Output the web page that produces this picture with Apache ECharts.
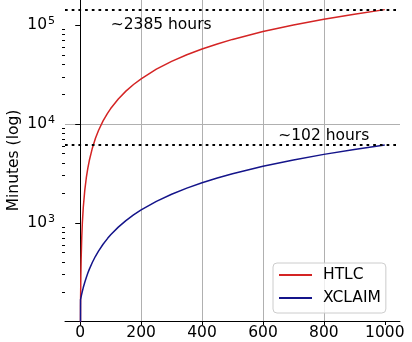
<!DOCTYPE html>
<html>
<head>
<meta charset="utf-8">
<script src="https://cdn.jsdelivr.net/npm/echarts@6/dist/echarts.min.js"></script>
<style>
  html, body { margin: 0; padding: 0; background: #fff; }
  #main { width: 412px; height: 342px; }
</style>
</head>
<body>
<div id="main"></div>
<script>
// x positions
var xs = [0, 1, 2, 3, 5, 7, 10, 15, 20, 25, 30, 40, 50, 60, 75, 90, 100, 125, 150, 175,
  200, 250, 300, 350, 400, 450, 500, 600, 700, 800, 900, 1000];
// minutes (log axis); first point drops to the axis floor
var htlcMinutes = [1, 143, 286, 429, 716, 1002, 1431, 2147, 2862, 3578, 4293, 5724, 7155, 8586, 10730, 12880, 14310, 17890, 21470, 25040,
  28620, 35780, 42930, 50090, 57240, 64400, 71550, 85860, 100200, 114500, 128800, 143100];
var xclaimMinutes = [1, 168, 174, 180, 192, 204, 222, 251, 281, 311, 341, 400, 460, 519, 609, 698, 758, 907, 1056, 1205,
  1354, 1652, 1949, 2247, 2545, 2843, 3141, 3737, 4333, 4928, 5524, 6120];

var refLines = [143100, 6120];
var noteX = [100, 650];
var noteY = [100000, 7500];
var noteText = ['~2385 hours', '~102 hours'];

var xTicks = [0, 200, 400, 600, 800, 1000];
var yTicks = [1000, 10000, 100000];
var yMinorTicks = [200, 300, 400, 500, 600, 700, 800, 900,
  2000, 3000, 4000, 5000, 6000, 7000, 8000, 9000,
  20000, 30000, 40000, 50000, 60000, 70000, 80000, 90000];

var font = 'DejaVu Sans';
var fs = 15.5;

function pairs(vals) {
  return xs.map(function (x, i) { return [x, vals[i]]; });
}

var chart = echarts.init(document.getElementById('main'));

var yRange = { min: 102, max: 179000 };

chart.setOption({
  animation: false,
  textStyle: { fontFamily: font },
  grid: { left: 65, right: 12, top: 0, bottom: 21, outerBoundsMode: 'none', containLabel: false },
  legend: {
    orient: 'vertical',
    left: 273, top: 263,
    padding: [4, 5, 7, 6],
    icon: 'rect',
    itemWidth: 33, itemHeight: 2, itemGap: 7,
    backgroundColor: 'rgba(255,255,255,0.8)',
    borderColor: '#cccccc', borderWidth: 1, borderRadius: 4,
    textStyle: { fontSize: fs, color: '#000', fontFamily: font, padding: [0, 0, 0, 6], lineHeight: 16 },
    data: ['HTLC', 'XCLAIM']
  },
  xAxis: {
    type: 'value',
    min: -50, max: 1050,
    axisLine: { lineStyle: { color: '#000', width: 1 } },
    axisTick: { show: true, length: 4, customValues: xTicks, lineStyle: { color: '#000' } },
    axisLabel: {
      customValues: xTicks, color: '#000', fontSize: fs, margin: 4, fontFamily: font,
      formatter: function (v) { return String(v); }
    },
    splitLine: { show: true, showMinLine: false, showMaxLine: false, lineStyle: { color: '#b0b0b0', width: 1 } }
  },
  yAxis: [{
    type: 'log',
    logBase: 10,
    min: yRange.min, max: yRange.max,
    name: 'Minutes (log)',
    nameLocation: 'middle',
    nameGap: 43,
    nameMoveOverlap: false,
    nameTextStyle: { fontSize: fs, color: '#000', fontFamily: font },
    axisLine: { show: true, lineStyle: { color: '#000', width: 1 } },
    axisTick: { show: true, length: 5, customValues: yTicks, lineStyle: { color: '#000' } },
    axisLabel: {
      customValues: yTicks,
      margin: 10,
      color: '#000',
      formatter: function (v) {
        return '{b|10}{e|' + Math.round(Math.log10(v)) + '}';
      },
      rich: {
        b: { fontSize: fs, color: '#000', fontFamily: font },
        e: { fontSize: 11, color: '#000', fontFamily: font, padding: [0, 0, 7, 1] }
      }
    },
    splitLine: { show: true, showMinLine: false, showMaxLine: false, lineStyle: { color: '#b0b0b0', width: 1 } }
  }, {
    // minor ticks only
    type: 'log',
    logBase: 10,
    min: yRange.min, max: yRange.max,
    position: 'left',
    axisLine: { show: false },
    axisTick: { show: true, length: 3, customValues: yMinorTicks, lineStyle: { color: '#000' } },
    axisLabel: { show: false },
    splitLine: { show: false }
  }],
  series: [{
    name: 'HTLC',
    type: 'line',
    symbol: 'none',
    color: '#d42424',
    lineStyle: { color: '#d42424', width: 1.5 },
    data: pairs(htlcMinutes),
    markLine: {
      silent: true,
      symbol: ['none', 'none'],
      label: { show: false },
      lineStyle: { color: '#000', type: [2.7, 4], width: 2.2 },
      data: refLines.map(function (v) { return { yAxis: v }; })
    }
  }, {
    name: 'XCLAIM',
    type: 'line',
    symbol: 'none',
    color: '#14148a',
    lineStyle: { color: '#14148a', width: 1.5 },
    data: pairs(xclaimMinutes),
    markPoint: {
      silent: true,
      symbol: 'circle',
      symbolSize: 0,
      label: { show: true, position: 'right', distance: 0, color: '#000', fontSize: fs, fontFamily: font },
      data: noteText.map(function (t, i) {
        return { coord: [noteX[i], noteY[i]], label: { formatter: t } };
      })
    }
  }]
});
</script>
</body>
</html>
